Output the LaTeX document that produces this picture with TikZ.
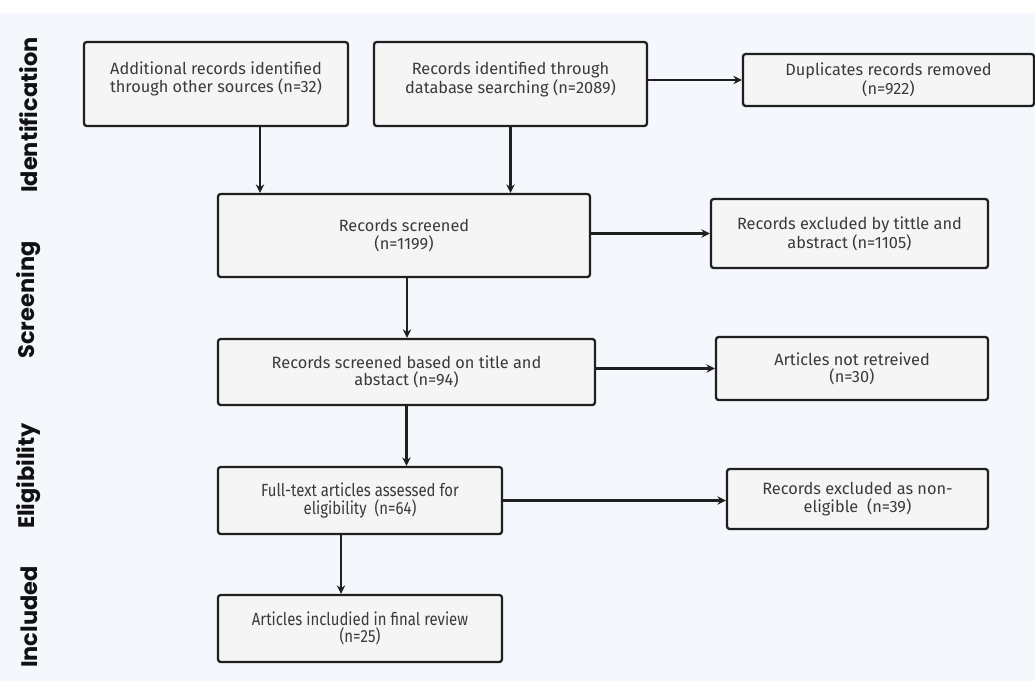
\documentclass[tikz,border=0pt]{standalone}
\usepackage{fontspec}
\setmainfont{Fira Sans}
\newfontfamily\stagefont{Poppins}
\newfontfamily\narrowfont{Fira Sans}[FakeStretch=0.85]
\usetikzlibrary{arrows.meta,calc}
\definecolor{Canvas}{HTML}{F4F7FC}
\definecolor{BoxFill}{HTML}{F5F5F5}
\definecolor{BoxLine}{HTML}{1F1F1F}
\definecolor{BoxText}{HTML}{3A3A3A}
\definecolor{StageText}{HTML}{111111}
\begin{document}
\begin{tikzpicture}[x=0.02cm,y=-0.02cm,>={Stealth[length=1.7mm,width=1.7mm]},
 box/.style={draw=BoxLine,fill=BoxFill,line width=1.3pt,rounded corners=1.5pt,align=center,text=BoxText,inner sep=0pt,font=\fontsize{9.3}{9.8}\selectfont},
 narrowbox/.style={box,font=\narrowfont\fontsize{10}{9.8}\selectfont},
 arr/.style={->,draw=BoxLine,line width=1.5pt},
 stage/.style={rotate=90,text=StageText,font=\stagefont\bfseries\fontsize{12.8}{14}\selectfont}]
\useasboundingbox (0,0) rectangle (1035,681); \fill[Canvas] (0,13) rectangle (1035,681);
\node[stage] (sid) at (29,115){Identification}; \node[stage] (ssc) at (29,300){Screening}; \node[stage] (sel) at (29,476){Eligibility}; \node[stage] (sin) at (29,617){Included};
\node[box,minimum width=5.28cm,minimum height=1.68cm] (add) at (216,84){Additional records identified\\through other sources (n=32)\\[-2pt]\mbox{}};
\node[box,minimum width=5.46cm,minimum height=1.68cm] (db) at (510.5,84){Records identified through\\database searching (n=2089)\\[-2pt]\mbox{}};
\node[box,minimum width=5.82cm,minimum height=1.04cm] (dup) at (888.5,80){Duplicates records removed\\(n=922)};
\node[box,minimum width=7.44cm,minimum height=1.66cm] (scr) at (404,235.5){Records screened\\(n=1199)};
\node[box,minimum width=5.54cm,minimum height=1.38cm] (exc) at (849.5,233.5){Records excluded by tittle and\\abstract (n=1105)};
\node[box,minimum width=7.54cm,minimum height=1.32cm] (tia) at (406.5,372){Records screened based on title and\\abstact (n=94)};
\node[box,minimum width=5.44cm,minimum height=1.26cm] (nre) at (852,368.5){Articles not retreived\\(n=30)};
\node[narrowbox,minimum width=5.68cm,minimum height=1.34cm] (ful) at (360,500.5){Full-text articles assessed for\\eligibility\ \ (n=64)};
\node[box,minimum width=5.22cm,minimum height=1.2cm] (nel) at (857.5,499){Records excluded as non-\\eligible\ \ (n=39)};
\node[narrowbox,minimum width=5.68cm,minimum height=1.34cm] (inc) at (360,628.5){Articles includied in final review\\(n=25)};
\draw[arr] ($(add.south)+(44,0)$) coordinate (a1) -- (a1 |- scr.north); \draw[arr] (db.south) -- (db.south |- scr.north);
\draw[arr] (db.east |- dup.west) -- (dup.west); \draw[arr] (scr.east |- exc.west) -- (exc.west);
\draw[arr] ($(scr.south)+(3,0)$) coordinate (s1) -- (s1 |- tia.north); \draw[arr] (tia.east |- nre.west) -- (nre.west);
\draw[arr] (tia.south) -- (tia.south |- ful.north); \draw[arr] (ful.east) -- (ful.east -| nel.west);
\draw[arr] ($(ful.south)+(-19,0)$) coordinate (f1) -- (f1 |- inc.north);
\end{tikzpicture}
\end{document}
